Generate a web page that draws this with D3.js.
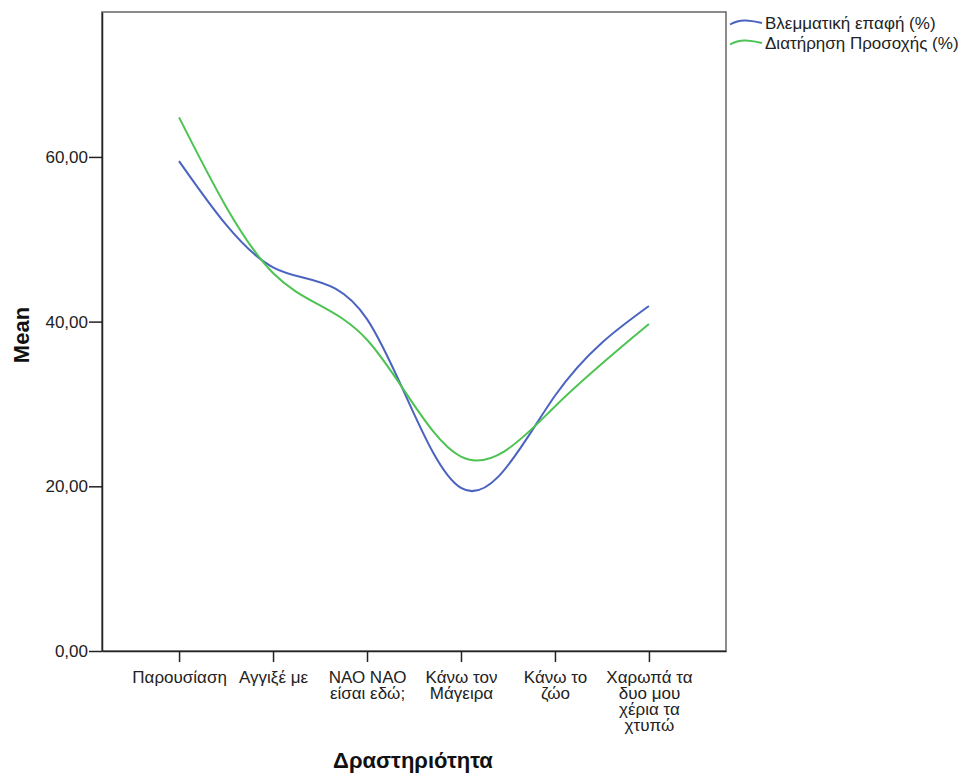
<!DOCTYPE html>
<html>
<head>
<meta charset="utf-8">
<script src="https://cdn.jsdelivr.net/npm/d3@7"></script>
<style>
  html, body { margin: 0; padding: 0; background: #fff; }
  svg { display: block; font-family: "Liberation Sans", Arial, sans-serif; }
</style>
</head>
<body>
<svg id="chart" width="961" height="773"></svg>
<script>
// Activities (x categories), each label split into lines
const categories = ["Παρουσίαση", "Αγγιξέ με", "ΝΑΟ ΝΑΟ είσαι εδώ;", "Κάνω τον Μάγειρα", "Κάνω το ζώο", "Χαρωπά τα δυο μου χέρια τα χτυπώ"];
const categoryLines = [
  ["Παρουσίαση"],
  ["Αγγιξέ με"],
  ["ΝΑΟ ΝΑΟ", "είσαι εδώ;"],
  ["Κάνω τον", "Μάγειρα"],
  ["Κάνω το", "ζώο"],
  ["Χαρωπά τα", "δυο μου", "χέρια τα", "χτυπώ"]
];
// Mean values per activity
const eyeContact = [59.5, 46.6, 40.3, 19.8, 31.0, 41.9];
const attention = [64.8, 45.9, 37.8, 23.6, 29.7, 39.7];
const seriesNames = ["Βλεμματική επαφή (%)", "Διατήρηση Προσοχής (%)"];
const seriesColors = ["#4b63c0", "#4cc352"];
const yTicks = [0, 20, 40, 60];

const svg = d3.select("#chart");
const plotLeft = 102, plotRight = 726, plotTop = 12, plotBottom = 651;
const labelFont = 17;

const x = d3.scalePoint().domain(categories).range([plotLeft, plotRight]).padding(0.82);
const y = d3.scaleLinear().domain([0, 77.6]).range([plotBottom, plotTop]);

// frame
svg.append("rect")
  .attr("x", plotLeft).attr("y", plotTop)
  .attr("width", plotRight - plotLeft).attr("height", plotBottom - plotTop)
  .attr("fill", "none").attr("stroke", "#666").attr("stroke-width", 1.5);

// y axis
const yAxis = svg.append("g")
  .attr("transform", `translate(${plotLeft},0)`)
  .call(d3.axisLeft(y).tickValues(yTicks).tickSize(13).tickSizeOuter(0).tickPadding(1)
    .tickFormat(d => d3.format(".2f")(d).replace(".", ",")));
yAxis.select(".domain").attr("stroke", "#222").attr("stroke-width", 1.5);
yAxis.selectAll(".tick line").attr("stroke", "#222").attr("stroke-width", 1.5);
yAxis.selectAll(".tick text").attr("font-size", labelFont).attr("fill", "#222")
  .attr("font-family", "Liberation Sans, Arial, sans-serif");

// x axis
const xAxis = svg.append("g")
  .attr("transform", `translate(0,${plotBottom})`)
  .call(d3.axisBottom(x).tickSize(11).tickSizeOuter(0).tickFormat(""));
xAxis.select(".domain").attr("stroke", "#222").attr("stroke-width", 1.5);
xAxis.selectAll(".tick line").attr("stroke", "#222").attr("stroke-width", 1.5);
xAxis.selectAll(".tick").each(function(d, i) {
  const t = d3.select(this).append("text")
    .attr("text-anchor", "middle")
    .attr("font-size", labelFont).attr("fill", "#222")
    .attr("font-family", "Liberation Sans, Arial, sans-serif");
  categoryLines[i].forEach((ln, j) => {
    t.append("tspan").attr("x", 0).attr("y", 31.5 + j * 16.3).text(ln);
  });
});

// axis titles
svg.append("text")
  .attr("x", 413).attr("y", 768)
  .attr("text-anchor", "middle").attr("font-size", 22).attr("font-weight", "bold")
  .attr("fill", "#111").text("Δραστηριότητα");
svg.append("text")
  .attr("transform", "translate(29,335) rotate(-90)")
  .attr("text-anchor", "middle").attr("font-size", 22).attr("font-weight", "bold")
  .attr("fill", "#111").text("Mean");

// lines
const line = d3.line()
  .x((d, i) => x(categories[i]))
  .y(d => y(d))
  .curve(d3.curveNatural);
[eyeContact, attention].forEach((vals, k) => {
  svg.append("path")
    .attr("d", line(vals))
    .attr("fill", "none")
    .attr("stroke", seriesColors[k])
    .attr("stroke-width", 2);
});

// legend
const legend = svg.append("g").attr("transform", "translate(730,23)");
seriesNames.forEach((name, k) => {
  const g = legend.append("g").attr("transform", `translate(0,${k * 20})`);
  g.append("path")
    .attr("d", "M0,1.5 Q8,-3 16,-2.5 T32,0")
    .attr("fill", "none").attr("stroke", seriesColors[k]).attr("stroke-width", 2);
  g.append("text")
    .attr("x", 35).attr("y", 5.5)
    .attr("font-size", 17).attr("fill", "#222")
    .text(name);
});
</script>
</body>
</html>
